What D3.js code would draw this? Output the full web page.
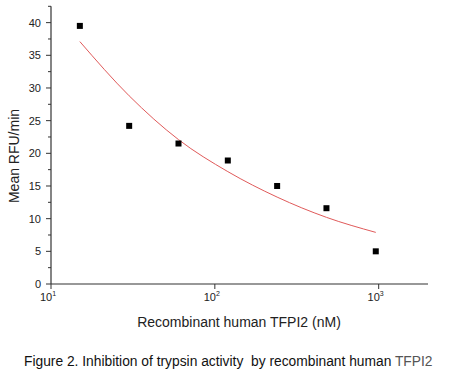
<!DOCTYPE html>
<html><head><meta charset="utf-8">
<script src="https://cdn.jsdelivr.net/npm/d3@7"></script>
<style>body{margin:0;background:#fff}svg{display:block}text{font-family:"Liberation Sans",Arial,sans-serif}</style>
</head><body><svg id="c" width="451" height="383"></svg>
<script>
const concentrations = [15, 30, 60, 120, 240, 480, 960];
const meanRFU = [39.5, 24.2, 21.5, 18.9, 15.0, 11.6, 5.0];
const fitX = [15, 30, 60, 120, 240, 480, 960];
const fitY = [37.1, 28.8, 22.1, 17.2, 13.3, 10.2, 7.9];
const yTicks = [0, 5, 10, 15, 20, 25, 30, 35, 40];
const yMinorTicks = [2.5, 7.5, 12.5, 17.5, 22.5, 27.5, 32.5, 37.5, 42.5];
const xTicks = [10, 100, 1000];
const xTickExp = ["1", "2", "3"];

const svg = d3.select("#c");
const x = d3.scaleLog().domain([10, 2000]).range([51, 428]);
const y = d3.scaleLinear().domain([0, 42.5]).range([284, 6.3]);
const axisColor = "#333";

// y axis
const ga = svg.append("g");
ga.append("line").attr("x1", 51).attr("x2", 51).attr("y1", y(42.5)).attr("y2", y(0)).attr("stroke", axisColor).attr("stroke-width", 1.2);
ga.selectAll(".ymaj").data(yTicks).join("line").attr("x1", 46).attr("x2", 51).attr("y1", d => y(d)).attr("y2", d => y(d)).attr("stroke", axisColor);
ga.selectAll(".ymin").data(yMinorTicks).join("line").attr("x1", 48).attr("x2", 51).attr("y1", d => y(d)).attr("y2", d => y(d)).attr("stroke", axisColor);
ga.selectAll(".ylab").data(yTicks).join("text").attr("x", 41).attr("y", d => y(d) + 4).attr("text-anchor", "end").attr("font-size", 11).attr("fill", "#222").text(d => d);

// x axis
ga.append("line").attr("x1", 51).attr("x2", 428).attr("y1", 284).attr("y2", 284).attr("stroke", axisColor).attr("stroke-width", 1.2);
ga.selectAll(".xmaj").data(xTicks).join("line").attr("x1", d => x(d)).attr("x2", d => x(d)).attr("y1", 284).attr("y2", 289).attr("stroke", axisColor);
const xl = ga.selectAll(".xlab").data(xTicks).join("text").attr("x", d => x(d) - 3).attr("y", 301).attr("text-anchor", "middle").attr("font-size", 11).attr("fill", "#222");
xl.append("tspan").text("10");
xl.append("tspan").attr("dy", -5).attr("font-size", 7).text((d, i) => xTickExp[i]);

// titles
svg.append("text").attr("x", 239).attr("y", 327).attr("text-anchor", "middle").attr("font-size", 14).attr("fill", "#222").text("Recombinant human TFPI2 (nM)");
svg.append("text").attr("transform", "translate(19,156) rotate(-90)").attr("text-anchor", "middle").attr("font-size", 14).attr("fill", "#222").text("Mean RFU/min");

// fit curve
const fit = fitX.map((d, i) => [d, fitY[i]]);
svg.append("path").datum(fit).attr("fill", "none").attr("stroke", "#e05a5a").attr("stroke-width", 1)
  .attr("d", d3.line().x(d => x(d[0])).y(d => y(d[1])).curve(d3.curveMonotoneX));

// points
svg.selectAll(".pt").data(concentrations).join("rect")
  .attr("x", d => x(d) - 3).attr("y", (d, i) => y(meanRFU[i]) - 3).attr("width", 6).attr("height", 6).attr("fill", "#000");

// caption
const cap = svg.append("text").attr("x", 24).attr("y", 366).attr("font-size", 13.8).attr("fill", "#111").attr("xml:space", "preserve").style("white-space", "pre");
cap.append("tspan").text("Figure 2. Inhibition of trypsin activity  by recombinant human ");
cap.append("tspan").attr("fill", "#555").text("TFPI2");
</script></body></html>
